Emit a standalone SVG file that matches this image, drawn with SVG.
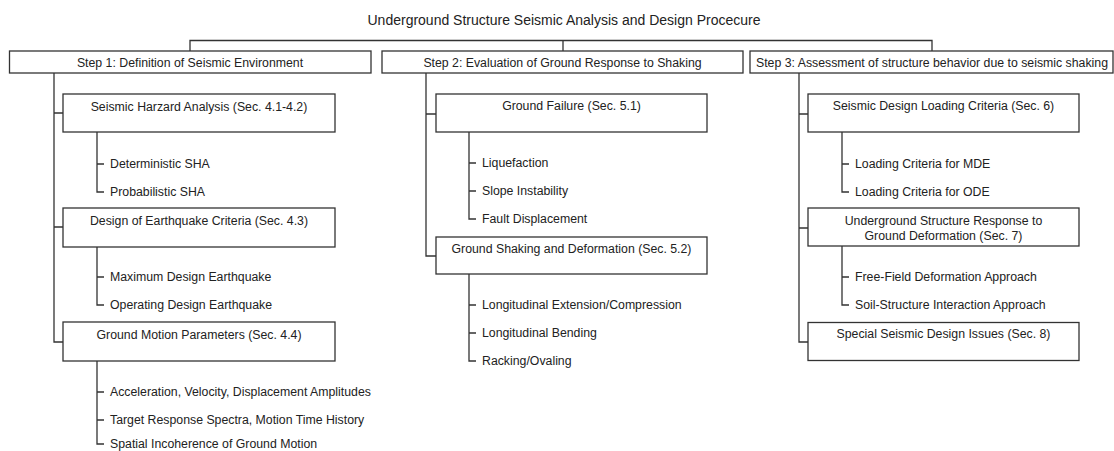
<svg xmlns="http://www.w3.org/2000/svg" width="1114" height="451" viewBox="0 0 1114 451">
<style>
  .bg { fill: #ffffff; }
  .box { fill: #ffffff; stroke: #333333; stroke-width: 1.3; }
  .ln { fill: none; stroke: #333333; stroke-width: 1.3; }
  text { font-family: "Liberation Sans", Arial, sans-serif; font-size: 12.3px; fill: #222222; }
  .title { font-size: 14px; }
  .c { text-anchor: middle; }
</style>
<rect class="bg" x="0" y="0" width="1114" height="451"/>

<g id="connectors">
  <!-- top -->
  <path class="ln" d="M190 51 V40.5 H932 V51 M563 40.5 V51"/>
  <!-- main trunks -->
  <path class="ln" d="M54 73 V342 H63 M54 113 H63 M54 227 H63"/>
  <path class="ln" d="M426 73 V256 H436 M426 114 H436"/>
  <path class="ln" d="M799 73 V342 H808 M799 114 H808 M799 228 H808"/>
  <!-- left sub-trunks -->
  <path class="ln" d="M97 132 V192 H104 M97 164 H104"/>
  <path class="ln" d="M97 247 V305 H104 M97 277 H104"/>
  <path class="ln" d="M97 361 V444 H104 M97 392 H104 M97 420 H104"/>
  <!-- middle sub-trunks -->
  <path class="ln" d="M469 132 V219 H476 M469 163 H476 M469 191 H476"/>
  <path class="ln" d="M469 274 V361 H476 M469 305 H476 M469 333 H476"/>
  <!-- right sub-trunks -->
  <path class="ln" d="M842 132 V192 H849 M842 164 H849"/>
  <path class="ln" d="M842 246 V305 H849 M842 277 H849"/>
</g>

<g id="title">
  <text class="title c" x="564" y="24.5">Underground Structure Seismic Analysis and Design Procecure</text>
</g>

<g id="step1">
  <rect class="box" x="9.5" y="51" width="361.5" height="22"/>
  <text class="c" x="190" y="66.5">Step 1: Definition of Seismic Environment</text>
</g>
<g id="step2">
  <rect class="box" x="382" y="51" width="361" height="22"/>
  <text class="c" x="562.5" y="66.5">Step 2: Evaluation of Ground Response to Shaking</text>
</g>
<g id="step3">
  <rect class="box" x="750" y="51" width="363" height="22"/>
  <text class="c" x="932" y="66.5">Step 3: Assessment of structure behavior due to seismic shaking</text>
</g>

<g id="sha">
  <rect class="box" x="63" y="94" width="272" height="38"/>
  <text class="c" x="199" y="111">Seismic Harzard Analysis (Sec. 4.1-4.2)</text>
</g>
<g id="sha-items">
  <text x="110" y="168.3">Deterministic SHA</text>
  <text x="110" y="196.3">Probabilistic SHA</text>
</g>
<g id="eqc">
  <rect class="box" x="63" y="208" width="272" height="39"/>
  <text class="c" x="199" y="225">Design of Earthquake Criteria (Sec. 4.3)</text>
</g>
<g id="eqc-items">
  <text x="110" y="281.3">Maximum Design Earthquake</text>
  <text x="110" y="309.3">Operating Design Earthquake</text>
</g>
<g id="gmp">
  <rect class="box" x="63" y="322" width="272" height="39"/>
  <text class="c" x="199" y="338.5">Ground Motion Parameters (Sec. 4.4)</text>
</g>
<g id="gmp-items">
  <text x="110" y="396.3">Acceleration, Velocity, Displacement Amplitudes</text>
  <text x="110" y="424.3">Target Response Spectra, Motion Time History</text>
  <text x="110" y="448">Spatial Incoherence of Ground Motion</text>
</g>

<g id="gf">
  <rect class="box" x="436" y="94" width="271" height="38"/>
  <text class="c" x="571.5" y="110">Ground Failure (Sec. 5.1)</text>
</g>
<g id="gf-items">
  <text x="482" y="167.3">Liquefaction</text>
  <text x="482" y="195.3">Slope Instability</text>
  <text x="482" y="223.3">Fault Displacement</text>
</g>
<g id="gsd">
  <rect class="box" x="436" y="237" width="271" height="37"/>
  <text class="c" x="571.5" y="253.3">Ground Shaking and Deformation (Sec. 5.2)</text>
</g>
<g id="gsd-items">
  <text x="482" y="309.3">Longitudinal Extension/Compression</text>
  <text x="482" y="337.3">Longitudinal Bending</text>
  <text x="482" y="365.3">Racking/Ovaling</text>
</g>

<g id="sdl">
  <rect class="box" x="808" y="94" width="271" height="38"/>
  <text class="c" x="943.5" y="110">Seismic Design Loading Criteria (Sec. 6)</text>
</g>
<g id="sdl-items">
  <text x="855" y="168.3">Loading Criteria for MDE</text>
  <text x="855" y="196.3">Loading Criteria for ODE</text>
</g>
<g id="usr">
  <rect class="box" x="808" y="208" width="271" height="38"/>
  <text class="c" x="943.5" y="225.3">Underground Structure Response to</text>
  <text class="c" x="943.5" y="239.5">Ground Deformation (Sec. 7)</text>
</g>
<g id="usr-items">
  <text x="855" y="281.3">Free-Field Deformation Approach</text>
  <text x="855" y="309.3">Soil-Structure Interaction Approach</text>
</g>
<g id="ssd">
  <rect class="box" x="808" y="322.5" width="271" height="38"/>
  <text class="c" x="943.5" y="338">Special Seismic Design Issues (Sec. 8)</text>
</g>
</svg>
